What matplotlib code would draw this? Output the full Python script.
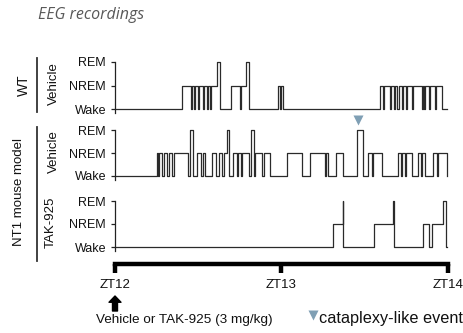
import matplotlib
matplotlib.use("Agg")
import matplotlib.pyplot as plt

plt.rcParams['font.family'] = ['Liberation Sans', 'DejaVu Sans']

W, H = 464, 333

# ---------------- data (minutes after ZT12; 0=Wake, 1=NREM, 2=REM) ----------------
state_labels = ["Wake", "NREM", "REM"]
end_time = 119.6

wt_times = [0, 24.3, 27.4, 27.8, 28.4, 28.8, 29.9, 30.3, 31.7, 32.1, 33.0, 33.4,
            34.1, 34.5, 36.6, 37.8, 41.8, 45.0, 45.5, 47.1, 48.2, 58.8, 59.6, 60.0,
            60.4, 95.5, 96.6, 97.0, 99.1, 99.5, 100.5, 100.9, 101.8, 102.2, 103.3,
            103.7, 104.9, 105.3, 106.9, 107.3, 110.5, 110.9, 111.4, 111.8, 113.2,
            113.6, 115.3, 115.7, 117.7]
wt_states = [0, 1, 0, 1, 0, 1, 0, 1, 0, 1, 0, 1,
             0, 1, 2, 0, 1, 0, 1, 2, 0, 1, 0, 1,
             0, 1, 0, 1, 0, 1, 0, 1, 0, 1, 0,
             1, 0, 1, 0, 1, 0, 1, 0, 1, 0,
             1, 0, 1, 0]

nt1_veh_times = [0, 15.0, 15.6, 16.0, 17.1, 17.8, 18.9, 19.5, 20.5, 21.1, 26.3, 27.0,
                 28.0, 29.7, 31.0, 31.7, 32.6, 35.0, 36.4, 37.5, 38.6, 39.3, 40.2,
                 41.1, 42.5, 43.8, 44.3, 45.4, 45.9, 48.3, 49.0, 50.2, 50.6, 53.0,
                 53.7, 55.9, 61.9, 67.3, 70.3, 75.5, 76.0, 76.6, 79.6, 82.3, 87.1,
                 89.2, 91.3, 92.5, 93.1, 96.1, 102.1, 103.1, 103.6, 104.5, 105.0,
                 106.9, 109.3, 110.3, 110.8, 111.7, 114.7, 115.9, 116.4, 119.5]
nt1_veh_states = [0, 1, 0, 1, 0, 1, 0, 1, 0, 1, 0, 2,
                  0, 1, 0, 1, 0, 1, 0, 1, 0, 1, 2,
                  0, 1, 0, 1, 0, 1, 0, 2, 0, 1, 0,
                  1, 0, 1, 0, 1, 0, 1, 0, 1, 0, 2,
                  0, 1, 0, 1, 0, 1, 0, 1, 0, 1,
                  0, 1, 0, 1, 0, 1, 0, 1, 0]

tak_times = [0, 78.7, 82.0, 82.3, 93.3, 100.1, 100.4, 110.9, 113.3, 114.1, 118.1, 119.3]
tak_states = [0, 1, 2, 0, 1, 2, 0, 1, 0, 1, 2, 0]

cataplexy_times = [87.5]

zt_ticks = [0, 60, 120]
zt_labels = ["ZT12", "ZT13", "ZT14"]

# ---------------- layout helpers (pixels from top-left) ----------------
def fx(px):
    return px / W

def fy(py):
    return 1 - py / H

X0, X1 = 115, 448
fig = plt.figure(figsize=(W / 100, H / 100), dpi=100)

trace_color = "#2a2a2a"
text_color = "#111111"
event_color = "#7f9fb4"


def make_panel(y_rem, y_wake, times, states):
    ppu = (y_wake - y_rem) / 2.0
    extra = 4
    ax = fig.add_axes([fx(X0), fy(y_wake + extra), fx(X1) - fx(X0),
                       (y_wake + extra - y_rem) / H])
    ax.set_xlim(0, 120)
    ax.set_ylim(-extra / ppu, 2)
    for s in ["top", "right", "bottom"]:
        ax.spines[s].set_visible(False)
    ax.spines["left"].set_linewidth(0.9)
    ax.spines["left"].set_color("#222222")
    ax.set_xticks([])
    ax.set_yticks([0, 1, 2])
    ax.set_yticklabels(state_labels, fontsize=9, color=text_color)
    ax.tick_params(axis="y", length=3, width=0.9, pad=3.5, color="#222222")
    ax.patch.set_alpha(0)
    ax.step(list(times) + [end_time], list(states) + [states[-1]], where="post",
            color=trace_color, lw=0.9, clip_on=False)
    return ax, ppu


ax_wt, _ = make_panel(62, 109, wt_times, wt_states)
ax_veh, ppu_veh = make_panel(130, 176, nt1_veh_times, nt1_veh_states)
ax_tak, _ = make_panel(201, 247, tak_times, tak_states)

# cataplexy markers above REM level
ax_veh.plot(cataplexy_times, [2 + 10 / ppu_veh] * len(cataplexy_times), marker="v",
            ls="none", ms=6.5, color=event_color, mec="none", clip_on=False)

# timeline axis
ax_t = fig.add_axes([fx(X0), fy(300), fx(X1) - fx(X0), (300 - 264) / H])
ax_t.set_xlim(0, 120)
ax_t.set_ylim(0, 1)
ax_t.patch.set_alpha(0)
for s in ["left", "right", "bottom"]:
    ax_t.spines[s].set_visible(False)
ax_t.spines["top"].set_linewidth(3.2)
ax_t.spines["top"].set_color("black")
ax_t.spines["top"].set_capstyle("projecting")
ax_t.set_yticks([])
ax_t.xaxis.set_ticks_position("top")
ax_t.set_xticks(zt_ticks)
ax_t.set_xticklabels(zt_labels)
ax_t.tick_params(axis="x", direction="in", length=6.5, width=3.2, color="black",
                 labeltop=False, labelbottom=False, top=True, bottom=False)
for xv, lab in zip(zt_ticks, zt_labels):
    ax_t.annotate(lab, xy=(xv, H - 285), xycoords=("data", "figure pixels"),
                  fontsize=9.5, ha="center", va="center", color=text_color,
                  annotation_clip=False)

# dosing arrow at ZT12
ax_t.annotate("", xy=(zt_ticks[0], H - 296), xytext=(zt_ticks[0], H - 311),
              xycoords=("data", "figure pixels"), textcoords=("data", "figure pixels"),
              arrowprops=dict(arrowstyle="simple,head_width=0.86,head_length=0.45,tail_width=0.36",
                              color="black", shrinkA=0, shrinkB=0, mutation_scale=10),
              annotation_clip=False)

fig.text(fx(96), fy(320), "Vehicle or TAK-925 (3 mg/kg)", fontsize=9.7,
         ha="left", va="center", color=text_color)

# legend for cataplexy
fig.lines.append(plt.Line2D([fx(312.5)], [fy(315)], marker="v", ls="none", ms=6.5,
                            color=event_color, mec="none", transform=fig.transFigure))
fig.text(fx(319), fy(319), "cataplexy-like event", fontsize=11.7, ha="left",
         va="center", color=text_color)

# title
fig.text(fx(38), fy(15), "EEG recordings", fontsize=11.5, style="italic",
         family=["Open Sans", "DejaVu Sans"], color="#595959", ha="left", va="center")

# group labels and brackets
fig.text(fx(24), fy(85), "WT", rotation=90, fontsize=10, ha="center", va="center",
         color=text_color)
fig.text(fx(19), fy(192), "NT1 mouse model", rotation=90, fontsize=9.5, ha="center",
         va="center", color=text_color)
fig.text(fx(54), fy(84), "Vehicle", rotation=90, fontsize=9.5, ha="center",
         va="center", color=text_color)
fig.text(fx(54), fy(152), "Vehicle", rotation=90, fontsize=9.5, ha="center",
         va="center", color=text_color)
fig.text(fx(51), fy(222), "TAK-925", rotation=90, fontsize=9.5, ha="center",
         va="center", color=text_color)
fig.lines.append(plt.Line2D([fx(37), fx(37)], [fy(58), fy(112)], lw=1.3,
                            color="#333333", transform=fig.transFigure))
fig.lines.append(plt.Line2D([fx(37), fx(37)], [fy(127), fy(261)], lw=1.3,
                            color="#333333", transform=fig.transFigure))

fig.savefig("out.png", dpi=100)
